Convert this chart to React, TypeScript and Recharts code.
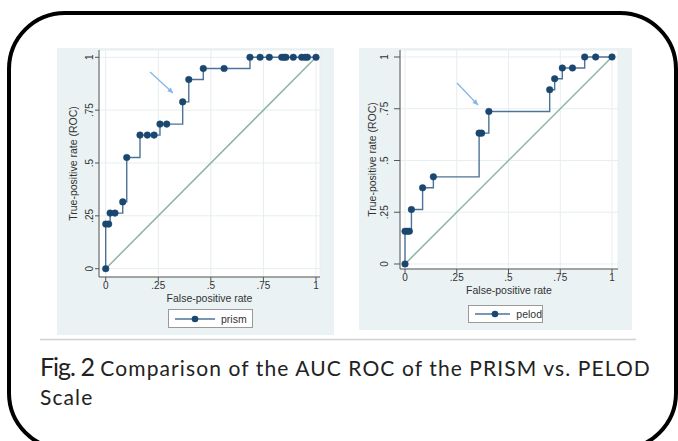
import React from "react";
import { LineChart, Line, XAxis, YAxis, CartesianGrid, Legend } from "recharts";

const ticks = [0, 0.25, 0.5, 0.75, 1];
const tickLabels = ["0", ".25", ".5", ".75", "1"];

const prismFpr = [0, 0, 0.014, 0.021, 0.044, 0.081, 0.1, 0.163, 0.198, 0.23, 0.258, 0.29, 0.366, 0.395, 0.464, 0.563, 0.686, 0.734, 0.778, 0.837, 0.848, 0.857, 0.892, 0.932, 0.948, 0.959, 1];
const prismTpr = [0, 0.211, 0.211, 0.263, 0.263, 0.316, 0.526, 0.632, 0.632, 0.632, 0.684, 0.684, 0.789, 0.895, 0.947, 0.947, 1, 1, 1, 1, 1, 1, 1, 1, 1, 1, 1];

const pelodFpr = [0, 0, 0.011, 0.021, 0.031, 0.085, 0.137, 0.358, 0.37, 0.405, 0.699, 0.723, 0.76, 0.809, 0.868, 0.921, 1];
const pelodTpr = [0, 0.158, 0.158, 0.158, 0.263, 0.368, 0.421, 0.632, 0.632, 0.737, 0.842, 0.895, 0.947, 0.947, 1, 1, 1];

const diagonal = [
  { fpr: 0, tpr: 0 },
  { fpr: 1, tpr: 1 },
];

const NAVY = "#1a476f";
const AXIS = "#555";
const FONT = "'Liberation Sans', Arial, sans-serif";

type PanelProps = {
  name: string;
  fpr: number[];
  tpr: number[];
  left: number;
  top: number;
  width: number;
  height: number;
  margin: { top: number; right: number; bottom: number; left: number };
  xDomain: [number, number];
  yDomain: [number, number];
  yTickSize: number;
  yTickMargin: number;
  yTitleDx: number;
  legendPos: { left: number; top: number; width: number; height: number };
};

function YTick(props: any) {
  const { x, y, payload } = props;
  const i = ticks.indexOf(payload.value);
  return (
    <text
      x={x - 1}
      y={y}
      transform={`rotate(-90 ${x - 1} ${y})`}
      textAnchor="middle"
      fontSize={10}
      fill="#333"
      fontFamily={FONT}
    >
      {tickLabels[i]}
    </text>
  );
}

function xTickFormat(v: number) {
  return tickLabels[ticks.indexOf(v)];
}

function Panel(p: PanelProps) {
  const data = p.fpr.map((f, i) => ({ fpr: f, tpr: p.tpr[i] }));
  return (
    <div
      style={{
        position: "absolute",
        left: p.left,
        top: p.top,
        width: p.width,
        height: p.height,
        background: "#eaf2f3",
      }}
    >
      <LineChart width={p.width} height={p.height} margin={p.margin}>
        <CartesianGrid fill="#fff" stroke="#e6eef0" strokeWidth={1} />
        <XAxis
          type="number"
          dataKey="fpr"
          domain={p.xDomain}
          ticks={ticks}
          tickFormatter={xTickFormat}
          allowDataOverflow
          height={24}
          stroke={AXIS}
          tickSize={4}
          tickMargin={1}
          tick={{ fontSize: 10, fill: "#333", fontFamily: FONT }}
          label={(lp: any) => {
            const vb = lp.viewBox;
            return (
              <text
                x={vb.x + vb.width / 2}
                y={vb.y + 25}
                textAnchor="middle"
                fontSize={10.5}
                fill="#333"
                fontFamily={FONT}
              >
                False-positive rate
              </text>
            );
          }}
        />
        <YAxis
          type="number"
          dataKey="tpr"
          domain={p.yDomain}
          ticks={ticks}
          allowDataOverflow
          width={30}
          stroke={AXIS}
          tickSize={p.yTickSize}
          tickMargin={p.yTickMargin}
          tick={<YTick />}
          label={(lp: any) => {
            const vb = lp.viewBox;
            const cx = vb.x + p.yTitleDx;
            const cy = vb.y + vb.height / 2;
            return (
              <text
                x={cx}
                y={cy}
                transform={`rotate(-90 ${cx} ${cy})`}
                textAnchor="middle"
                fontSize={10.5}
                fill="#333"
                fontFamily={FONT}
              >
                True-positive rate (ROC)
              </text>
            );
          }}
        />
        <Line
          data={diagonal}
          dataKey="tpr"
          type="linear"
          stroke="#8cb4a5"
          strokeWidth={1.5}
          dot={false}
          legendType="none"
          isAnimationActive={false}
        />
        <Line
          data={data}
          dataKey="tpr"
          name={p.name}
          type="stepAfter"
          stroke="#4d7398"
          strokeWidth={1.4}
          dot={{ r: 3.3, fill: NAVY, stroke: NAVY, strokeWidth: 0.5 }}
          isAnimationActive={false}
        />
        <Legend
          layout="horizontal"
          verticalAlign="middle"
          align="center"
          wrapperStyle={{
            left: p.legendPos.left,
            top: p.legendPos.top,
            width: p.legendPos.width,
            height: p.legendPos.height,
          }}
          content={() => (
            <div
              style={{
                boxSizing: "border-box",
                width: p.legendPos.width,
                height: p.legendPos.height,
                border: "1px solid #999",
                background: "#fff",
                display: "flex",
                alignItems: "center",
                fontFamily: FONT,
                fontSize: 10.5,
                color: "#333",
              }}
            >
              <svg width={40} height={12} style={{ marginLeft: 6, marginRight: 6 }}>
                <line x1={0} y1={6} x2={40} y2={6} stroke="#4d7398" strokeWidth={1.4} />
                <circle cx={20} cy={6} r={3.3} fill={NAVY} />
              </svg>
              <span>{p.name}</span>
            </div>
          )}
        />
      </LineChart>
    </div>
  );
}

function Arrow({ x1, y1, x2, y2 }: { x1: number; y1: number; x2: number; y2: number }) {
  const a = Math.atan2(y2 - y1, x2 - x1);
  const h = 6;
  const p1 = [x2 - h * Math.cos(a - 0.45), y2 - h * Math.sin(a - 0.45)];
  const p2 = [x2 - h * Math.cos(a + 0.45), y2 - h * Math.sin(a + 0.45)];
  return (
    <g>
      <line x1={x1} y1={y1} x2={x2} y2={y2} stroke="#86b6e6" strokeWidth={1.3} />
      <polygon points={`${x2},${y2} ${p1[0]},${p1[1]} ${p2[0]},${p2[1]}`} fill="#86b6e6" />
    </g>
  );
}

export default function App() {
  return (
    <div
      style={{
        position: "absolute",
        left: 0,
        top: 0,
        width: 678,
        height: 441,
        overflow: "hidden",
        background: "#fff",
      }}
    >
      <div
        style={{
          position: "absolute",
          left: 7,
          top: 11,
          width: 671,
          height: 440,
          boxSizing: "border-box",
          border: "4px solid #000",
          borderRadius: 58,
        }}
      />
      <Panel
        name="prism"
        fpr={prismFpr}
        tpr={prismTpr}
        left={57}
        top={48}
        width={277}
        height={287}
        margin={{ top: 2, right: 14, bottom: 34, left: 12 }}
        xDomain={[-0.0319, 1.019]}
        yDomain={[-0.0393, 1.0345]}
        yTickSize={4}
        yTickMargin={1}
        yTitleDx={8}
        legendPos={{ left: 111, top: 261, width: 85, height: 19 }}
      />
      <Panel
        name="pelod"
        fpr={pelodFpr}
        tpr={pelodTpr}
        left={359}
        top={48}
        width={273}
        height={282}
        margin={{ top: 2, right: 14, bottom: 37, left: 11 }}
        xDomain={[-0.0242, 1.029]}
        yDomain={[-0.0242, 1.0338]}
        yTickSize={6}
        yTickMargin={5}
        yTitleDx={6}
        legendPos={{ left: 109, top: 257, width: 75, height: 18 }}
      />
      <svg
        width={678}
        height={441}
        style={{ position: "absolute", left: 0, top: 0, pointerEvents: "none" }}
      >
        <Arrow x1={150} y1={72} x2={173} y2={93} />
        <Arrow x1={457} y1={83} x2={478} y2={105} />
        <line x1={40} y1={339.5} x2={636} y2={339.5} stroke="#d0d0d0" strokeWidth={1.5} />
      </svg>
      <div
        style={{
          position: "absolute",
          left: 40,
          top: 352,
          width: 636,
          fontFamily: "Lato, 'Open Sans', sans-serif",
          fontSize: 21,
          letterSpacing: 1.1,
          lineHeight: "29px",
          color: "#222",
          whiteSpace: "nowrap",
        }}
      >
        <span style={{ fontSize: 25, letterSpacing: -1 }}>Fig. 2</span> Comparison of the AUC ROC of the PRISM vs. PELOD
        <br />
        Scale
      </div>
    </div>
  );
}
